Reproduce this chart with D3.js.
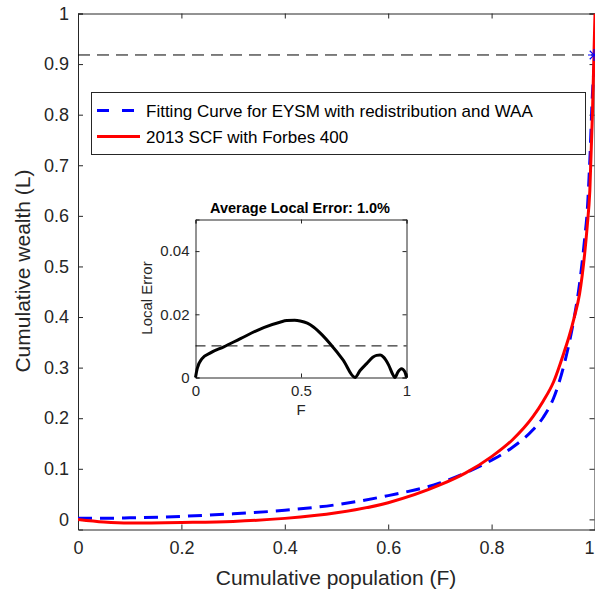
<!DOCTYPE html>
<html><head><meta charset="utf-8">
<script src="https://cdn.jsdelivr.net/npm/d3@7"></script>
<style>body{margin:0;background:#fff}svg{display:block;font-family:"Liberation Sans",Arial,sans-serif}</style>
</head><body><div id="c"></div>
<script>
// Main chart data
const popF = [0, 0.05, 0.1, 0.2, 0.3, 0.4, 0.5, 0.6, 0.7, 0.75, 0.8, 0.84, 0.88, 0.9, 0.92, 0.94, 0.95, 0.96, 0.97, 0.98, 0.985, 0.99, 0.995, 0.998, 1];
const scfL = [0, -0.005, -0.007, -0.006, -0.004, 0.002, 0.013, 0.033, 0.068, 0.092, 0.124, 0.157, 0.203, 0.234, 0.272, 0.33, 0.362, 0.40, 0.445, 0.525, 0.58, 0.65, 0.80, 0.92, 1];
const fitF = [0, 0.05, 0.1, 0.2, 0.3, 0.4, 0.5, 0.6, 0.7, 0.75, 0.8, 0.84, 0.88, 0.9, 0.92, 0.94, 0.95, 0.96, 0.97, 0.98, 0.985, 0.99, 0.995, 1];
const fitL = [0.002, 0.002, 0.003, 0.006, 0.011, 0.018, 0.029, 0.047, 0.072, 0.092, 0.117, 0.142, 0.177, 0.202, 0.240, 0.305, 0.348, 0.40, 0.465, 0.555, 0.61, 0.71, 0.84, 0.918];
const topShareLevel = 0.918;
const xTicks = [0, 0.2, 0.4, 0.6, 0.8, 1];
const yTicks = [0, 0.1, 0.2, 0.3, 0.4, 0.5, 0.6, 0.7, 0.8, 0.9, 1];
const legendLabels = ["Fitting Curve for EYSM with redistribution and WAA", "2013 SCF with Forbes 400"];
// Inset data (local error)
const errF = [0, 0.008, 0.031, 0.071, 0.134, 0.213, 0.323, 0.40, 0.433, 0.47, 0.496, 0.53, 0.559, 0.60, 0.638, 0.70, 0.756, 0.78, 0.811, 0.84, 0.858, 0.875, 0.89, 0.915, 0.937, 0.945, 0.96, 0.976, 0.992, 1];
const errV = [0, 0.0028, 0.006, 0.0078, 0.0097, 0.0123, 0.0158, 0.0175, 0.0180, 0.0181, 0.0179, 0.0172, 0.016, 0.0135, 0.0107, 0.0055, 0, 0.0022, 0.0044, 0.0064, 0.007, 0.0071, 0.0065, 0.004, 0.0007, 0, 0.0018, 0.0028, 0.0018, 0];
const avgErr = 0.01;
const insetXTicks = [0, 0.5, 1];
const insetYTicks = [0, 0.02, 0.04];
const insetTitle = "Average Local Error: 1.0%";

const W = 595, H = 596;
const svg = d3.select("#c").append("svg").attr("width", W).attr("height", H);
const axisCol = "#262626";

const x = d3.scaleLinear().domain([0, 1]).range([78, 595]);
const y = d3.scaleLinear().domain([-0.02, 1]).range([529.5, 13.5]);

svg.append("defs").append("clipPath").attr("id", "mc").append("rect")
  .attr("x", 78).attr("y", 13.5).attr("width", 517).attr("height", 516);

const g = svg.append("g");
function axisStyle(sel) {
  sel.selectAll(".domain").attr("stroke", axisCol).attr("stroke-width", 1);
  sel.selectAll(".tick line").attr("stroke", axisCol).attr("stroke-width", 1);
  sel.selectAll(".tick text").attr("fill", axisCol);
}
const fs = 18;
const xb = g.append("g").attr("transform", "translate(0,529.5)")
  .call(d3.axisBottom(x).tickValues(xTicks).tickSize(-5).tickPadding(12).tickFormat(d3.format("~g")))
  .call(axisStyle);
xb.selectAll("text").attr("font-size", fs).attr("font-family", "Liberation Sans, Arial, sans-serif");
// last label sits at the clipped right edge: keep it fully inside
xb.selectAll(".tick").filter(d => d === 1).select("text").attr("text-anchor", "end").attr("dx", -1);
g.append("g").attr("transform", "translate(0,13.5)")
  .call(d3.axisTop(x).tickValues(xTicks).tickSize(-5).tickFormat(""))
  .call(axisStyle);
g.append("g").attr("transform", "translate(78,0)")
  .call(d3.axisLeft(y).tickValues(yTicks).tickSize(-5).tickPadding(9).tickFormat(d3.format("~g")))
  .call(axisStyle).selectAll("text").attr("font-size", fs).attr("font-family", "Liberation Sans, Arial, sans-serif");
g.append("g").attr("transform", "translate(594.5,0)")
  .call(d3.axisRight(y).tickValues(yTicks).tickSize(-5).tickFormat(""))
  .call(axisStyle);

svg.append("text").attr("x", 336).attr("y", 585).attr("text-anchor", "middle")
  .attr("font-size", 21).attr("fill", axisCol).text("Cumulative population (F)");
svg.append("text").attr("transform", "translate(30,271) rotate(-90)").attr("text-anchor", "middle")
  .attr("font-size", 21).attr("fill", axisCol).text("Cumulative wealth (L)");

const plot = svg.append("g").attr("clip-path", "url(#mc)");
plot.append("line").attr("x1", x(0)).attr("x2", x(1)).attr("y1", y(topShareLevel)).attr("y2", y(topShareLevel))
  .attr("stroke", "#000").attr("stroke-width", 1).attr("stroke-dasharray", "12,7");

const lineFit = d3.line().x(d => x(d[0])).y(d => y(d[1])).curve(d3.curveMonotoneX);
plot.append("path").datum(fitF.map((f, i) => [f, fitL[i]])).attr("d", lineFit)
  .attr("fill", "none").attr("stroke", "#0000ff").attr("stroke-width", 3).attr("stroke-dasharray", "14,8");
plot.append("path").datum(popF.map((f, i) => [f, scfL[i]])).attr("d", lineFit)
  .attr("fill", "none").attr("stroke", "#ff0000").attr("stroke-width", 3);

const ax = x(1) - 1, ay = y(topShareLevel), r = 6;
const star = plot.append("g").attr("stroke", "#0000ff").attr("stroke-width", 1.2);
[[0, 1], [1, 0], [0.707, 0.707], [0.707, -0.707]].forEach(([dx, dy]) =>
  star.append("line").attr("x1", ax - dx * r).attr("y1", ay - dy * r).attr("x2", ax + dx * r).attr("y2", ay + dy * r));

const lg = svg.append("g");
lg.append("rect").attr("x", 91.5).attr("y", 92.5).attr("width", 494).attr("height", 62)
  .attr("fill", "#fff").attr("stroke", axisCol).attr("stroke-width", 1);
lg.append("line").attr("x1", 97).attr("x2", 140).attr("y1", 110.5).attr("y2", 110.5)
  .attr("stroke", "#0000ff").attr("stroke-width", 3).attr("stroke-dasharray", "12,13");
lg.append("line").attr("x1", 97).attr("x2", 140).attr("y1", 136.5).attr("y2", 136.5)
  .attr("stroke", "#ff0000").attr("stroke-width", 3);
lg.append("text").attr("x", 146).attr("y", 116.5).attr("font-size", 17).attr("fill", "#000").text(legendLabels[0]);
lg.append("text").attr("x", 146).attr("y", 142.5).attr("font-size", 17).attr("fill", "#000").text(legendLabels[1]);

const ix = d3.scaleLinear().domain([0, 1]).range([195.5, 406.5]);
const iy = d3.scaleLinear().domain([0, 0.05]).range([377.5, 219.5]);
const ig = svg.append("g");
ig.append("rect").attr("x", 195.5).attr("y", 219.5).attr("width", 211).attr("height", 158).attr("fill", "#fff");
const ifs = 15;
ig.append("g").attr("transform", "translate(0,377.5)")
  .call(d3.axisBottom(ix).tickValues(insetXTicks).tickSize(-4).tickPadding(8).tickFormat(d3.format("~g")))
  .call(axisStyle).selectAll("text").attr("font-size", ifs).attr("font-family", "Liberation Sans, Arial, sans-serif");
ig.append("g").attr("transform", "translate(0,219.5)")
  .call(d3.axisTop(ix).tickValues(insetXTicks).tickSize(-4).tickFormat(""))
  .call(axisStyle);
ig.append("g").attr("transform", "translate(195.5,0)")
  .call(d3.axisLeft(iy).tickValues(insetYTicks).tickSize(-4).tickPadding(6).tickFormat(d3.format("~g")))
  .call(axisStyle).selectAll("text").attr("font-size", ifs).attr("font-family", "Liberation Sans, Arial, sans-serif");
ig.append("g").attr("transform", "translate(406.5,0)")
  .call(d3.axisRight(iy).tickValues(insetYTicks).tickSize(-4).tickFormat(""))
  .call(axisStyle);
ig.append("line").attr("x1", ix(0)).attr("x2", ix(1)).attr("y1", iy(avgErr)).attr("y2", iy(avgErr))
  .attr("stroke", "#000").attr("stroke-width", 1).attr("stroke-dasharray", "10,6");
ig.append("path").datum(errF.map((f, i) => [f, errV[i]]))
  .attr("d", d3.line().x(d => ix(d[0])).y(d => iy(d[1])).curve(d3.curveMonotoneX))
  .attr("fill", "none").attr("stroke", "#000").attr("stroke-width", 3).attr("stroke-linejoin", "round");
ig.append("text").attr("x", 300).attr("y", 213).attr("text-anchor", "middle").attr("font-size", 14.5)
  .attr("font-weight", "bold").attr("fill", "#000").text(insetTitle);
ig.append("text").attr("x", 301).attr("y", 415).attr("text-anchor", "middle").attr("font-size", 15)
  .attr("fill", axisCol).text("F");
ig.append("text").attr("transform", "translate(152,298) rotate(-90)").attr("text-anchor", "middle")
  .attr("font-size", 15).attr("fill", axisCol).text("Local Error");
</script></body></html>
